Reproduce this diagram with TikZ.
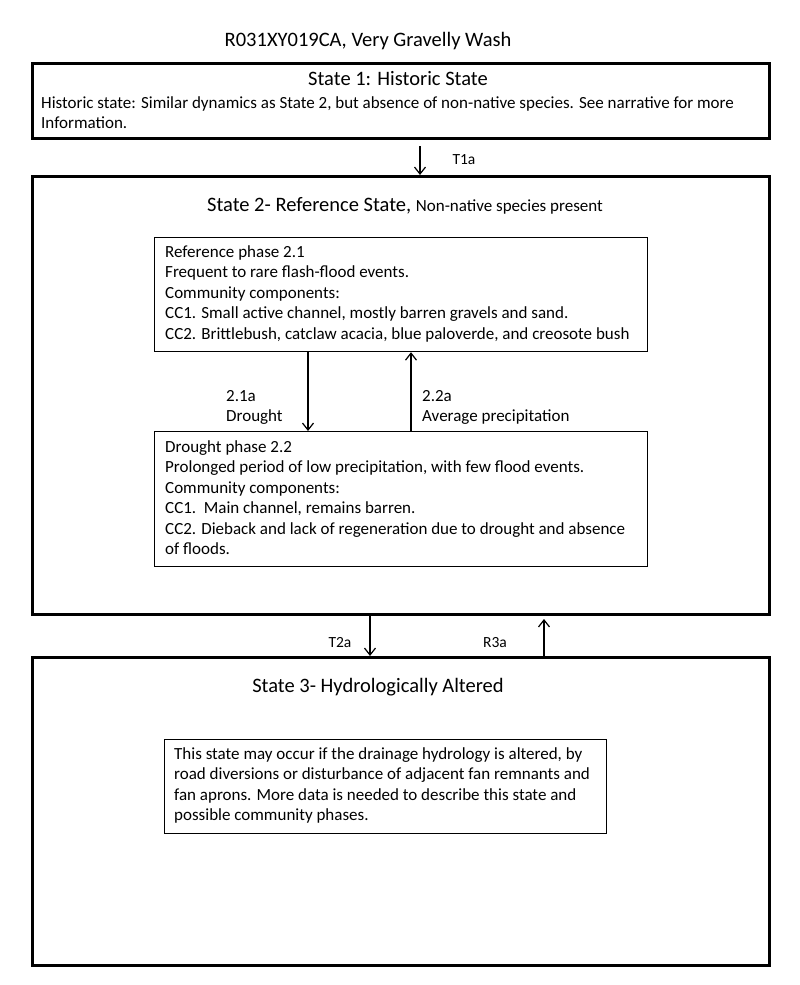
\documentclass[tikz,border=0pt]{standalone}
\usepackage{fontspec}
\setmainfont{Carlito}
\usetikzlibrary{arrows.meta}
\tikzset{
  statebox/.style={draw=black, line width=3pt, anchor=north west, inner sep=0pt},
  phasebox/.style={draw=black, line width=1.2pt, anchor=north west, inner sep=0pt},
  bodytext/.style={anchor=base west, inner sep=0pt, align=left, font=\fontsize{17}{20.5}\selectfont},
  titletext/.style={anchor=base, inner sep=0pt, font=\fontsize{20.5}{24}\selectfont},
  lbl/.style={anchor=base, inner sep=0pt, font=\fontsize{15.5}{20}\selectfont},
  lblw/.style={anchor=base west, inner sep=0pt, align=left, font=\fontsize{17}{20.5}\selectfont},
  arr/.style={draw=black, line width=1.2pt, -{Straight Barb[length=7pt,width=11pt,line width=1.2pt]}}
}
\begin{document}
\begin{tikzpicture}[x=1pt,y=-1pt]
\useasboundingbox[fill=white] (0,0) rectangle (800,985);

% title
\node[titletext] (title) at (368,46.5) {R031XY019CA, Very Gravelly Wash};

% State 1
\node[statebox, minimum width=737pt, minimum height=75pt] (s1) at (31,62) {};
\node[titletext] (s1t) at (398,85.5) {State 1: Historic State};
% base anchor = baseline of last line
\node[bodytext] (s1b) at (41,128.5) {Historic state: Similar dynamics as State 2, but absence of non-native species. See narrative for more\\Information.};

% State 2
\node[statebox, minimum width=737pt, minimum height=438pt] (s2) at (31,175) {};
\node[titletext] (s2t) at (405,211.5) {State 2- Reference State, {\fontsize{17}{20}\selectfont Non-native species present}};

\node[phasebox, minimum width=493pt, minimum height=114pt] (p1) at (154,237) {};
\node[bodytext] (p1b) at (165,339) {Reference phase 2.1\\Frequent to rare flash-flood events.\\Community components:\\CC1. Small active channel, mostly barren gravels and sand.\\CC2. Brittlebush, catclaw acacia, blue paloverde, and creosote bush};

\node[phasebox, minimum width=493pt, minimum height=135pt] (p2) at (154,431) {};
\node[bodytext] (p2b) at (165,554.5) {Drought phase 2.2\\Prolonged period of low precipitation, with few flood events.\\Community components:\\CC1.\ \ Main channel, remains barren.\\CC2. Dieback and lack of regeneration due to drought and absence\\of floods.};

\coordinate (xa) at (308,0);
\coordinate (xb) at (411,0);
\draw[arr] (xa |- p1.south) -- (xa |- p2.north);
\draw[arr] (xb |- p2.north) -- (xb |- p1.south);
\node[lblw] (l21) at (226,421.5) {2.1a\\Drought};
\node[lblw] (l22) at (422,421.5) {2.2a\\Average precipitation};

% State 3
\node[statebox, minimum width=737pt, minimum height=308pt] (s3) at (31,656) {};
\node[titletext] (s3t) at (378,692.5) {State 3- Hydrologically Altered};
\node[phasebox, minimum width=442pt, minimum height=94pt] (p3) at (164,739) {};
\node[bodytext] (p3b) at (174,820.5) {This state may occur if the drainage hydrology is altered, by\\road diversions or disturbance of adjacent fan remnants and\\fan aprons. More data is needed to describe this state and\\possible community phases.};

% transitions
\coordinate (xt1) at (420,0);
\coordinate (xt2) at (370,0);
\coordinate (xr3) at (544,0);
\draw[arr, shorten <=6pt] (xt1 |- s1.south) -- (xt1 |- s2.north);
\node[lbl] (t1a) at (464,164) {T1a};
\draw[arr] (xt2 |- s2.south) -- (xt2 |- s3.north);
\node[lbl] (t2a) at (340,647) {T2a};
\draw[arr, shorten >=3pt] (xr3 |- s3.north) -- (xr3 |- s2.south);
\node[lbl] (r3a) at (495,647) {R3a};
\end{tikzpicture}
\end{document}
